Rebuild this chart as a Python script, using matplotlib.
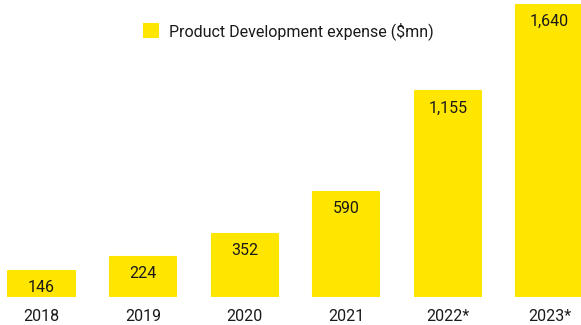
import matplotlib.pyplot as plt

plt.rcParams['font.family'] = ['Roboto', 'DejaVu Sans']

# Product development spend per year ($mn)
years = ['2018', '2019', '2020', '2021', '2022*', '2023*']
values = [146, 224, 352, 590, 1155, 1640]
value_labels = ['146', '224', '352', '590', '1,155', '1,640']

yellow = '#FFE600'
text_color = '#1a1a1a'

fig = plt.figure(figsize=(5.81, 3.25), dpi=100)
ax = fig.add_axes([0, 28 / 325, 1, 297 / 325])

x = range(len(years))
bars = ax.bar(x, values, width=0.65, color=yellow, edgecolor=yellow,
              linewidth=1.5, joinstyle='round',
              label='Product Development expense ($mn)')

# value labels just inside the top of each bar
for b, lbl in zip(bars, value_labels):
    ax.annotate(lbl, (b.get_x() + b.get_width() / 2, b.get_height()),
                xytext=(0, -12), textcoords='offset points',
                ha='center', va='center', fontsize=11.5, color=text_color)

ax.set_xlim(-41.5 / 101.6, (581 - 41.5) / 101.6)
ax.set_ylim(0, 297 * 1640 / 292)

# year labels under the bars
for xi, yr in zip(x, years):
    ax.text(xi, -19.5 * 1640 / 292, yr, ha='center', va='center',
            fontsize=11.5, color=text_color, clip_on=False)

for s in ax.spines.values():
    s.set_visible(False)
ax.set_xticks([])
ax.set_yticks([])

ax.legend(loc='upper center', bbox_to_anchor=(0.497, 0.975), frameon=False,
          fontsize=11.5, handlelength=0.85, handleheight=0.85, handletextpad=0.7,
          labelcolor=text_color)

fig.savefig('out.png', dpi=100)
